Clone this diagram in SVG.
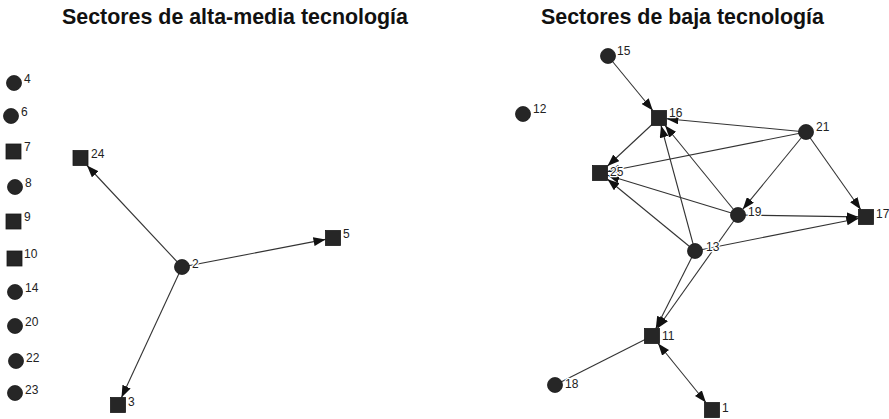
<svg xmlns="http://www.w3.org/2000/svg" width="889" height="419" viewBox="0 0 889 419">
<style>
.title{font-family:"Liberation Sans",Arial,sans-serif;font-weight:bold;font-size:21.4px;fill:#111}
.lbl{font-family:"Liberation Sans",Arial,sans-serif;font-size:12px;fill:#222;stroke:#fff;stroke-width:2.5px;paint-order:stroke;stroke-linejoin:round}
.nd{fill:#262626;stroke:#1a1a1a;stroke-width:0.8}
.e{stroke:#333;stroke-width:1.1;fill:none;marker-end:url(#arr)}
.u{stroke:#333;stroke-width:1.1;fill:none}
.b{stroke:#333;stroke-width:1.1;fill:none;marker-start:url(#arr);marker-end:url(#arr)}
</style>
<defs>
<marker id="arr" markerUnits="userSpaceOnUse" markerWidth="12" markerHeight="9" refX="12" refY="4.5" orient="auto-start-reverse">
<path d="M0,0 L12,4.5 L0,9 z" fill="#111"/>
</marker>
</defs>
<rect width="889" height="419" fill="#fff"/>
<text class="title" x="62" y="24">Sectores de alta-media tecnología</text>
<text class="title" x="541" y="24">Sectores de baja tecnología</text>

<g id="connectors">
<line class="e" x1="182" y1="267" x2="87" y2="165.5"/>
<line class="e" x1="182" y1="267" x2="325.5" y2="239.4"/>
<line class="e" x1="182" y1="267" x2="121.5" y2="397.5"/>

<line class="e" x1="608" y1="56" x2="652.8" y2="110.5"/>
<line class="e" x1="806" y1="132" x2="666.5" y2="118.7"/>
<line class="e" x1="806" y1="132" x2="607.5" y2="171.5"/>
<line class="e" x1="659" y1="118" x2="607.5" y2="166"/>
<line class="e" x1="738" y1="215" x2="607.5" y2="175.3"/>
<line class="e" x1="695" y1="251" x2="607.5" y2="179.2"/>
<line class="e" x1="695" y1="251" x2="661" y2="125.5"/>
<line class="e" x1="738" y1="215" x2="665.1" y2="125.5"/>
<line class="e" x1="806" y1="132" x2="742.8" y2="209.2"/>
<line class="e" x1="806" y1="132" x2="860.7" y2="209.5"/>
<line class="e" x1="738" y1="215" x2="858.5" y2="216.9"/>
<line class="e" x1="695" y1="251" x2="858.5" y2="218.5"/>
<line class="e" x1="695" y1="251" x2="655.8" y2="328.5"/>
<line class="e" x1="738" y1="215" x2="657.3" y2="328.5"/>
<line class="u" x1="555" y1="385" x2="652" y2="336"/>
<line class="b" x1="658.1" y1="343.5" x2="705.9" y2="402.5"/>
</g>

<g id="n4"><circle class="nd" cx="14" cy="83" r="7.5"/><text class="lbl" x="24" y="83">4</text></g>
<g id="n6"><circle class="nd" cx="11" cy="116" r="7.5"/><text class="lbl" x="21" y="116">6</text></g>
<g id="n7"><rect class="nd" x="6" y="144" width="15" height="15"/><text class="lbl" x="24" y="151">7</text></g>
<g id="n8"><circle class="nd" cx="15" cy="187" r="7.5"/><text class="lbl" x="25" y="187">8</text></g>
<g id="n9"><rect class="nd" x="6" y="214" width="15" height="15"/><text class="lbl" x="24" y="221">9</text></g>
<g id="n10"><rect class="nd" x="7" y="251" width="15" height="15"/><text class="lbl" x="24" y="258">10</text></g>
<g id="n14"><circle class="nd" cx="15" cy="292" r="7.5"/><text class="lbl" x="25" y="292">14</text></g>
<g id="n20"><circle class="nd" cx="15" cy="326" r="7.5"/><text class="lbl" x="25" y="326">20</text></g>
<g id="n22"><circle class="nd" cx="16" cy="361" r="7.5"/><text class="lbl" x="26" y="362">22</text></g>
<g id="n23"><circle class="nd" cx="15" cy="393" r="7.5"/><text class="lbl" x="25" y="394">23</text></g>
<g id="n24"><rect class="nd" x="73" y="150.5" width="15" height="15"/><text class="lbl" x="91" y="158">24</text></g>
<g id="n2"><circle class="nd" cx="182" cy="267" r="7.5"/><text class="lbl" x="192" y="268">2</text></g>
<g id="n5"><rect class="nd" x="325.5" y="230.5" width="15" height="15"/><text class="lbl" x="343" y="238">5</text></g>
<g id="n3"><rect class="nd" x="110.5" y="397.5" width="15" height="15"/><text class="lbl" x="128" y="406">3</text></g>

<g id="n15"><circle class="nd" cx="608" cy="56" r="7.5"/><text class="lbl" x="617" y="55">15</text></g>
<g id="n12"><circle class="nd" cx="523" cy="114" r="7.5"/><text class="lbl" x="533" y="113">12</text></g>
<g id="n16"><rect class="nd" x="651.5" y="110.5" width="15" height="15"/><text class="lbl" x="669" y="117">16</text></g>
<g id="n21"><circle class="nd" cx="806" cy="132" r="7.5"/><text class="lbl" x="816" y="131">21</text></g>
<g id="n25"><rect class="nd" x="592.5" y="165.5" width="15" height="15"/><text class="lbl" x="610" y="176">25</text></g>
<g id="n19"><circle class="nd" cx="738" cy="215" r="7.5"/><text class="lbl" x="748" y="216">19</text></g>
<g id="n17"><rect class="nd" x="858.5" y="209.5" width="15" height="15"/><text class="lbl" x="876" y="218">17</text></g>
<g id="n13"><circle class="nd" cx="695" cy="251" r="7.5"/><text class="lbl" x="706" y="251">13</text></g>
<g id="n11"><rect class="nd" x="644.5" y="328.5" width="15" height="15"/><text class="lbl" x="662" y="340">11</text></g>
<g id="n18"><circle class="nd" cx="555" cy="385" r="7.5"/><text class="lbl" x="565" y="388">18</text></g>
<g id="n1"><rect class="nd" x="704.5" y="402.5" width="15" height="15"/><text class="lbl" x="722" y="412">1</text></g>
</svg>
